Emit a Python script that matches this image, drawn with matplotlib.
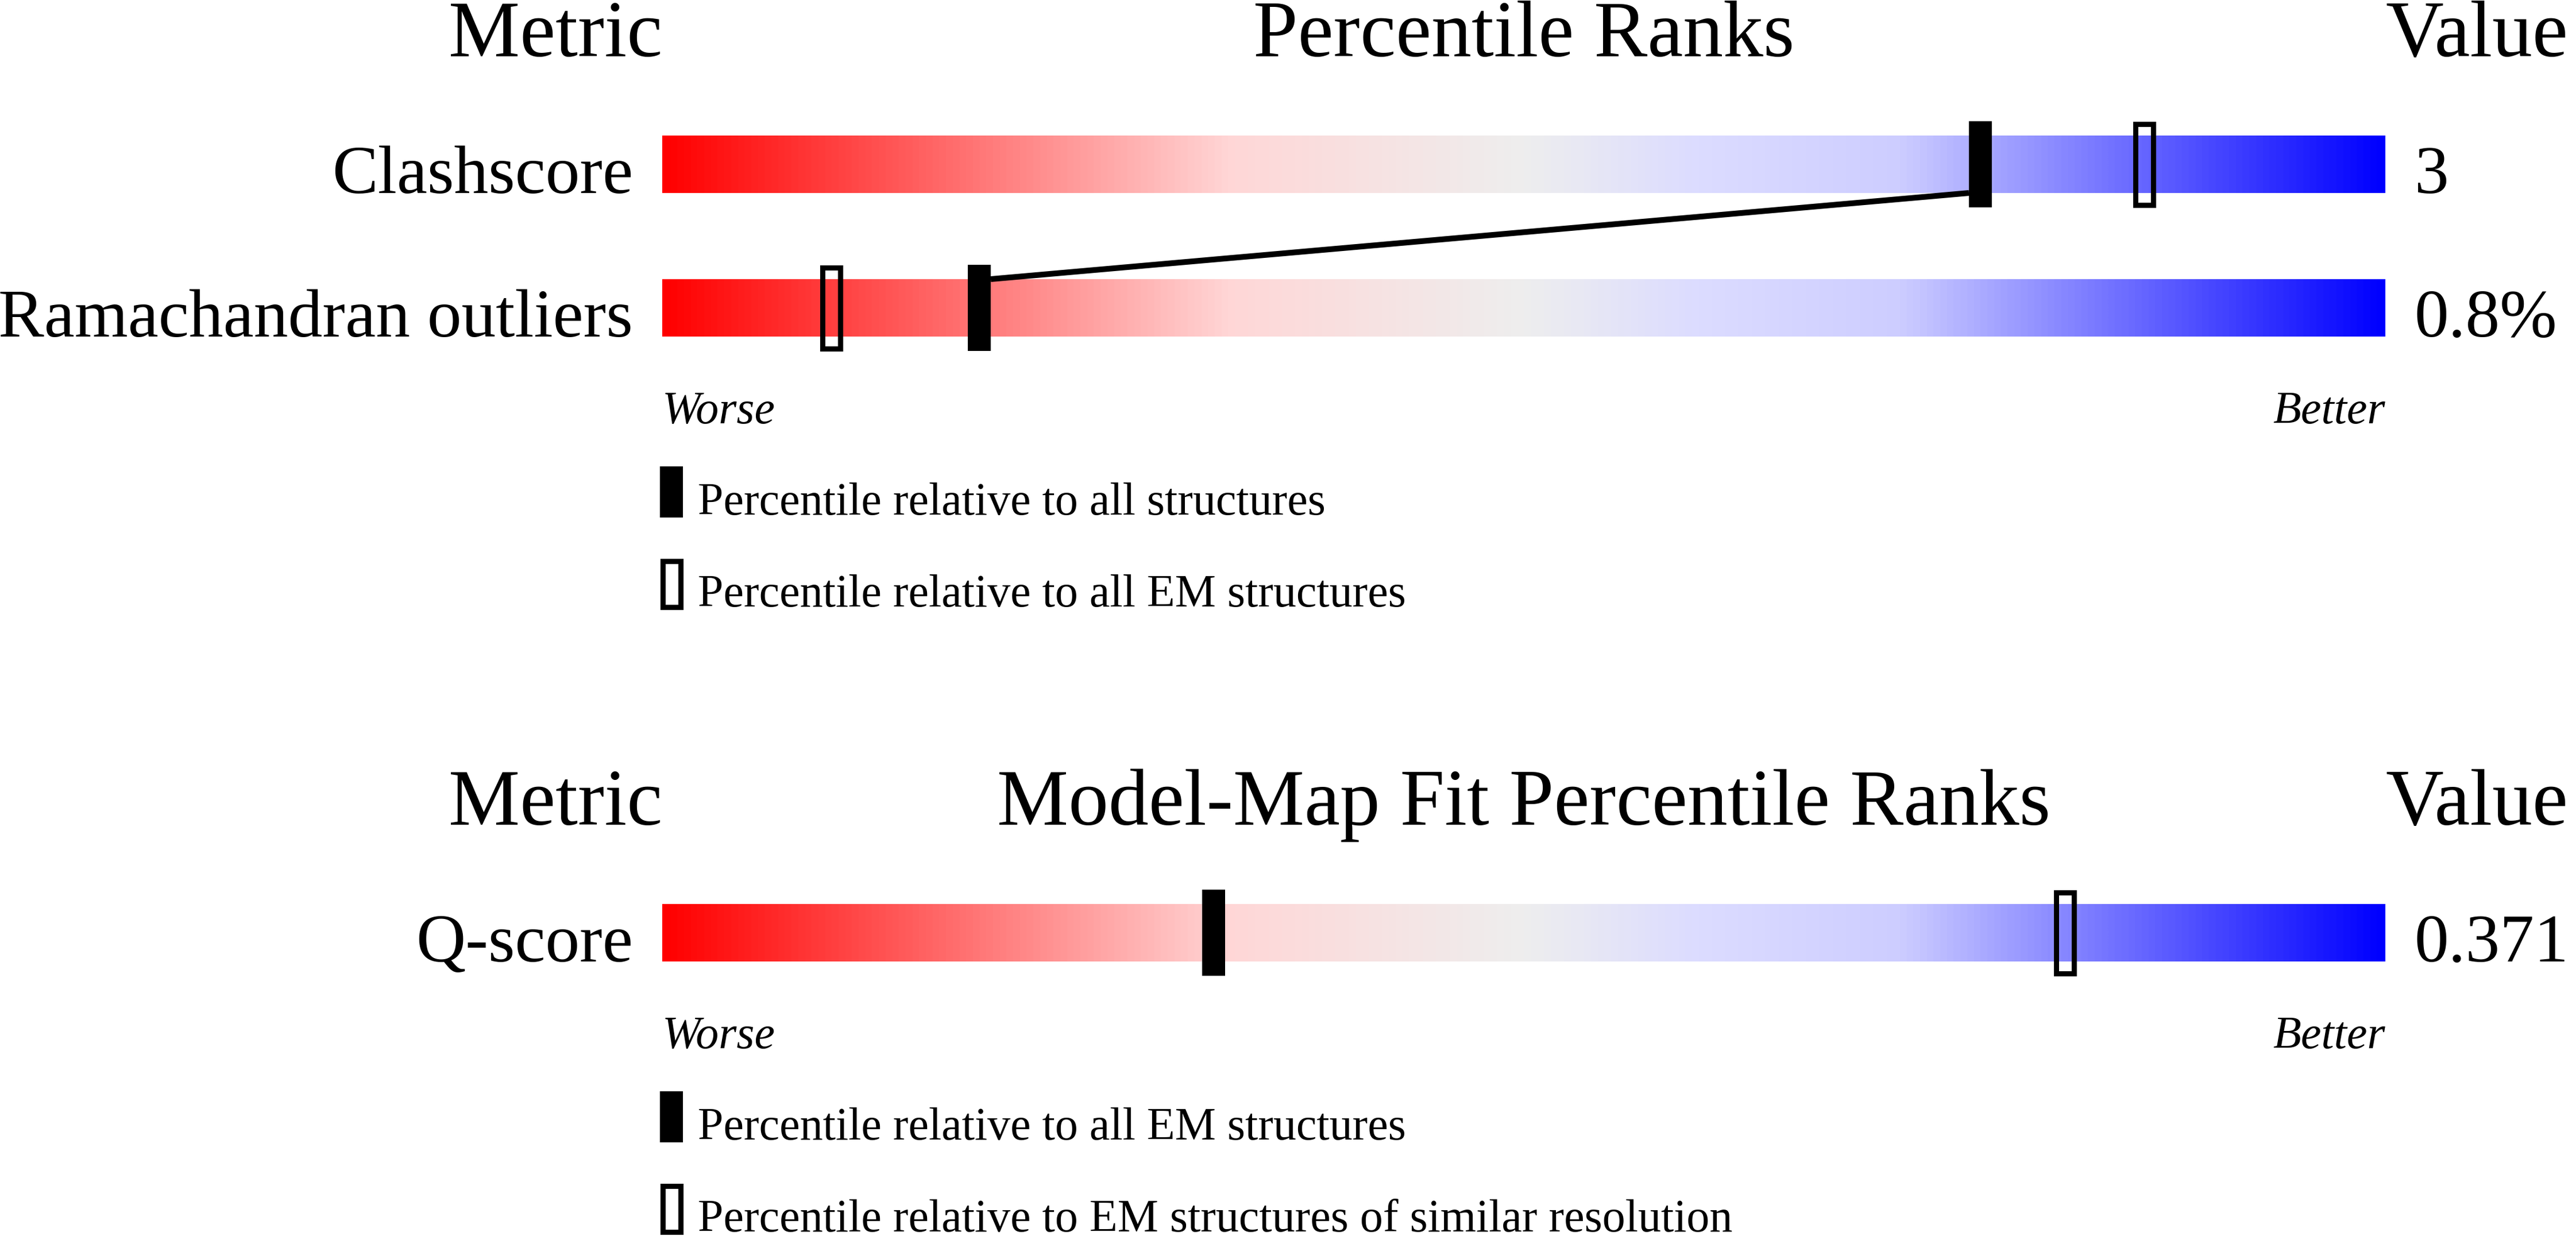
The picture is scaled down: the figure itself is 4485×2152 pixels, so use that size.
import numpy as np
import matplotlib
matplotlib.use("Agg")
import matplotlib.pyplot as plt
from matplotlib.colors import LinearSegmentedColormap
from matplotlib.patches import Rectangle

plt.rcParams['font.family'] = ['Liberation Serif', 'DejaVu Serif']

# geometry panel
geo_title = "Percentile Ranks"
geo_metrics = ["Clashscore", "Ramachandran outliers"]
geo_values = ["3", "0.8%"]
geo_pct_all = [76.5, 18.4]      # filled marker
geo_pct_em = [86, 9.8]          # open marker
geo_legend = ["Percentile relative to all structures",
              "Percentile relative to all EM structures"]

# model-map fit panel
fit_title = "Model-Map Fit Percentile Ranks"
fit_metrics = ["Q-score"]
fit_values = ["0.371"]
fit_pct_em = [32]               # filled marker
fit_pct_res = [81.4]            # open marker
fit_legend = ["Percentile relative to all EM structures",
              "Percentile relative to EM structures of similar resolution"]

# slider colours, red (worse) -> grey -> blue (better)
stops = [(0.0, "#ff0000"), (0.33, "#ffd7d7"), (0.5, "#eeeeee"),
         (0.6, "#dcdcff"), (0.72, "#cdcdff"), (1.0, "#0000ff")]
cmap = LinearSegmentedColormap.from_list("slider", stops)

W, H = 4485, 2152
BAR_LEFT = 1153      # px
PX_PCT = 30.0        # px per percentile unit
MW = 40 / PX_PCT     # marker width
EDGE = 9             # open marker border, px

fig = plt.figure(figsize=(W / 100, H / 100), dpi=100)
ax = fig.add_axes([0, 0, 1, 1])
ax.axis('off')

grad = np.linspace(0, 1, 512).reshape(1, -1)


def panel(top, title, metrics, values, filled, hollow, legend):
    ax.text(0, top, "Metric", ha='right', va='baseline', fontsize=100.5)
    ax.text(50, top, title, ha='center', va='baseline', fontsize=100.5)
    ax.text(100, top, "Value", ha='left', va='baseline', fontsize=100.5)

    bar_tops = [top + 138 + i * 250 for i in range(len(metrics))]
    for i in range(len(metrics)):
        y0 = bar_tops[i]
        y1 = y0 + 100
        ax.imshow(grad, cmap=cmap, extent=(0, 100, y1, y0), aspect='auto',
                  interpolation='bilinear', zorder=1)
        ax.text(-1.7, y1, metrics[i], ha='right', va='baseline', fontsize=86)
        ax.text(101.7, y1, values[i], ha='left', va='baseline', fontsize=86)
        ax.add_patch(Rectangle((filled[i] - MW / 2, y0 - 25), MW, 150,
                               fc='black', ec='none', zorder=4))
        ax.add_patch(Rectangle((hollow[i] - MW / 2 + EDGE / 2 / PX_PCT, y0 - 25 + EDGE / 2),
                               MW - EDGE / PX_PCT, 150 - EDGE,
                               fill=False, ec='black', lw=EDGE * 0.72, zorder=4))

    # line joining the filled markers of neighbouring rows
    for i in range(len(metrics) - 1):
        a, b = filled[i], filled[i + 1]
        s = 1 if a > b else -1
        ax.plot([b + s * MW / 2, a - s * MW / 2],
                [bar_tops[i + 1], bar_tops[i] + 100],
                color='black', lw=7.2, solid_capstyle='butt', zorder=3)

    bottom = bar_tops[-1] + 100
    ax.text(0, bottom + 151, "Worse", ha='left', va='baseline',
            fontsize=57.6, style='italic')
    ax.text(100, bottom + 151, "Better", ha='right', va='baseline',
            fontsize=57.6, style='italic')

    for k, label in enumerate(legend):
        ly = bottom + 226 + k * 160
        if k == 0:
            ax.add_patch(Rectangle((-0.13, ly), MW, 89, fc='black', ec='none'))
        else:
            ax.add_patch(Rectangle((-0.13 + EDGE / 2 / PX_PCT, ly + EDGE / 2),
                                   MW - EDGE / PX_PCT, 89 - EDGE,
                                   fill=False, ec='black', lw=EDGE * 0.72))
        ax.text(2.07, ly + 84, label, ha='left', va='baseline', fontsize=57.6)


panel(98, geo_title, geo_metrics, geo_values, geo_pct_all, geo_pct_em, geo_legend)
panel(1436, fit_title, fit_metrics, fit_values, fit_pct_em, fit_pct_res, fit_legend)

ax.set_xlim(-BAR_LEFT / PX_PCT, (W - BAR_LEFT) / PX_PCT)
ax.set_ylim(H, 0)

fig.savefig("out.png", dpi=100)
